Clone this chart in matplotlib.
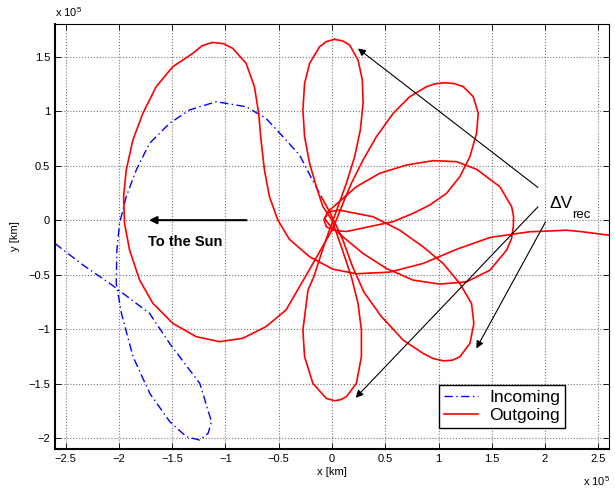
import matplotlib
matplotlib.use("Agg")
import matplotlib.pyplot as plt
import numpy as np

plt.rcParams.update({
    "font.family": ["Liberation Sans", "DejaVu Sans"],
    "font.size": 8,
    "mathtext.fontset": "custom",
    "mathtext.rm": "Liberation Sans",
})

# ---- data (units of 1e5 km) ----
# incoming trajectory
in_x = [-2.6, -2.336, -2.085, -1.7125, -1.525, -1.241, -1.131, -1.163, -1.241, -1.366,
        -1.522, -1.71, -1.867, -1.976, -2.025, -2.019, -1.994, -1.931, -1.8375, -1.7125,
        -1.525, -1.3375, -1.0875, -0.806, -0.619, -0.431, -0.303, -0.2, -0.099]
in_y = [-0.214, -0.413, -0.581, -0.855, -1.13, -1.498, -1.85, -1.957, -2.018, -1.988,
        -1.85, -1.59, -1.254, -0.856, -0.58, -0.274, -0.029, 0.216, 0.46, 0.705,
        0.888, 1.011, 1.087, 1.041, 0.934, 0.735, 0.595, 0.40, 0.214]

# outgoing trajectory: figure-eight of the up/down lobes
fig8_x = [0.025, 0.1, 0.166, 0.245, 0.285, 0.292, 0.266, 0.213, 0.135, 0.056,
          -0.064, -0.171, -0.225, -0.273, -0.257, -0.179, -0.053, 0.025, 0.08, 0.135,
          0.229, 0.276, 0.276, 0.245, 0.182, 0.09, 0.0, -0.085, -0.147, -0.21,
          -0.257, -0.273, -0.257, -0.21, -0.116, -0.05, 0.025]
fig8_y = [1.659, 1.645, 1.607, 1.469, 1.286, 1.072, 0.827, 0.583, 0.338, 0.124,
          -0.2, -0.52, -0.642, -1.009, -1.254, -1.498, -1.636, -1.657, -1.648, -1.621,
          -1.498, -1.254, -1.009, -0.765, -0.52, -0.25, 0.0, 0.124, 0.307, 0.521,
          0.766, 1.011, 1.255, 1.439, 1.592, 1.64, 1.659]

# outgoing trajectory: remaining lobes and escape
out_x = [-0.099, -0.03, 0.04, 0.103, 0.19, 0.30, 0.46, 0.668, 0.856, 0.95,
         1.044, 1.13, 1.2, 1.295, 1.332, 1.31, 1.2, 1.044, 0.856, 0.636,
         0.386, 0.072, -0.038, -0.069, -0.022, 0.103, 0.292, 0.511, 0.762, 1.013,
         1.263, 1.483, 1.639, 1.685, 1.702, 1.705, 1.687, 1.577, 1.357, 1.169,
         0.95, 0.699, 0.448, 0.229, -0.022, -0.075, -0.053, 0.009, 0.135, 0.574,
         0.762, 0.918, 1.075, 1.2, 1.295, 1.357, 1.373, 1.326, 1.232, 1.15,
         1.06, 0.97, 0.887, 0.73, 0.574, 0.417, 0.292, 0.182, 0.103, 0.041,
         0.0, -0.178, -0.431, -0.619, -0.8375, -1.056, -1.275, -1.494, -1.681, -1.806,
         -1.9, -1.947, -1.956, -1.931, -1.869, -1.775, -1.65, -1.494, -1.306, -1.22,
         -1.125, -1.02, -0.931, -0.806, -0.728, -0.688, -0.666, -0.634, -0.587, -0.509,
         -0.4, -0.21, 0.009, 0.229, 0.542, 0.856, 1.169, 1.483, 1.852, 2.073,
         2.2, 2.355, 2.6]
out_y = [0.214, 0.09, -0.05, -0.183, -0.42, -0.66, -0.88, -1.101, -1.223, -1.27,
         -1.291, -1.285, -1.254, -1.131, -0.948, -0.765, -0.581, -0.398, -0.245, -0.092,
         0.031, 0.092, 0.076, 0.015, -0.046, -0.153, -0.306, -0.443, -0.55, -0.587,
         -0.566, -0.459, -0.275, -0.17, -0.061, 0.03, 0.122, 0.306, 0.467, 0.537,
         0.546, 0.506, 0.430, 0.307, 0.092, 0.006, -0.061, -0.092, -0.104, -0.014,
         0.063, 0.139, 0.246, 0.399, 0.583, 0.797, 0.98, 1.133, 1.225, 1.253,
         1.261, 1.252, 1.225, 1.133, 0.98, 0.766, 0.552, 0.338, 0.154, 0.001,
         -0.09, -0.397, -0.824, -0.977, -1.084, -1.115, -1.069, -0.947, -0.763, -0.549,
         -0.274, -0.029, 0.216, 0.46, 0.735, 0.98, 1.225, 1.408, 1.531, 1.60,
         1.631, 1.62, 1.576, 1.439, 1.225, 0.98, 0.735, 0.46, 0.216, 0.002,
         -0.175, -0.336, -0.45, -0.492, -0.477, -0.397, -0.268, -0.159, -0.107, -0.098,
         -0.092, -0.107, -0.138]

# annotation arrows: (tail_x, tail_y, head_x, head_y)
dv_arrows = [(1.933, 0.300, 0.244, 1.575),
             (1.933, 0.122, 0.222, -1.630),
             (2.005, -0.015, 1.355, -1.177)]
sun_arrow = (-0.803, 0.0, -1.717, 0.0)

x_ticks = np.arange(-2.5, 2.51, 0.5)
y_ticks = np.arange(-2.0, 1.51, 0.5)

# ---- figure ----
fig = plt.figure(figsize=(6.15, 4.92), dpi=100)
ax = fig.add_axes([0.0894, 0.0874, 0.9008, 0.8638])

ax.plot(in_x, in_y, color="blue", lw=1.0, dashes=(6, 2.5, 1, 2.5), label="Incoming")
ax.plot(out_x, out_y, color="red", lw=1.2, label="Outgoing")
ax.plot(fig8_x, fig8_y, color="red", lw=1.2)

for x0, y0, x1, y1 in dv_arrows:
    ax.annotate("", xy=(x1, y1), xytext=(x0, y0),
                arrowprops=dict(arrowstyle="-|>", color="black", lw=0.8,
                                mutation_scale=11, shrinkA=0, shrinkB=0))
ax.annotate("", xy=sun_arrow[2:], xytext=sun_arrow[:2],
            arrowprops=dict(arrowstyle="-|>", color="black", lw=1.5,
                            mutation_scale=11, shrinkA=0, shrinkB=0))

ax.text(-1.726, -0.20, "To the Sun", fontsize=10.5, fontweight="bold",
        ha="left", va="center")
ax.text(2.042, 0.107, "\u0394V", fontsize=12.5, ha="left", va="baseline")
ax.text(2.255, 0.021, "rec", fontsize=9.5, ha="left", va="baseline")

ax.set_xlim(-2.6, 2.6)
ax.set_ylim(-2.1, 1.8)
ax.set_xticks(x_ticks)
ax.set_yticks(y_ticks)
ax.set_xticklabels([f"{v:g}".replace("-", "\u2212") for v in x_ticks])
ax.set_yticklabels([f"{v:g}".replace("-", "\u2212") for v in y_ticks])
ax.tick_params(direction="in", top=True, right=True, length=4, width=0.6, labelsize=8)
ax.grid(True, linestyle=":", color="#777777", lw=0.8)

ax.spines["left"].set_linewidth(1.5)
ax.spines["bottom"].set_linewidth(1.5)
ax.spines["top"].set_linewidth(0.8)
ax.spines["right"].set_linewidth(0.8)

ax.set_xlabel("x [km]", fontsize=8, labelpad=2)
ax.set_ylabel("y [km]", fontsize=8, labelpad=6)
fig.text(55 / 615, 1 - 12 / 492, r"x 10$^5$", fontsize=8, ha="left", va="center")
fig.text(583 / 615, 1 - 481 / 492, r"x 10$^5$", fontsize=8, ha="left", va="center")

leg = ax.legend(loc="lower right", bbox_to_anchor=(0.9206, 0.0487), borderaxespad=0,
                fontsize=12.5, fancybox=False, edgecolor="black", framealpha=1,
                handlelength=2.0, handletextpad=0.6, borderpad=0.3, labelspacing=0.15)
leg.get_frame().set_linewidth(1.0)

fig.savefig("out.png", dpi=100)
